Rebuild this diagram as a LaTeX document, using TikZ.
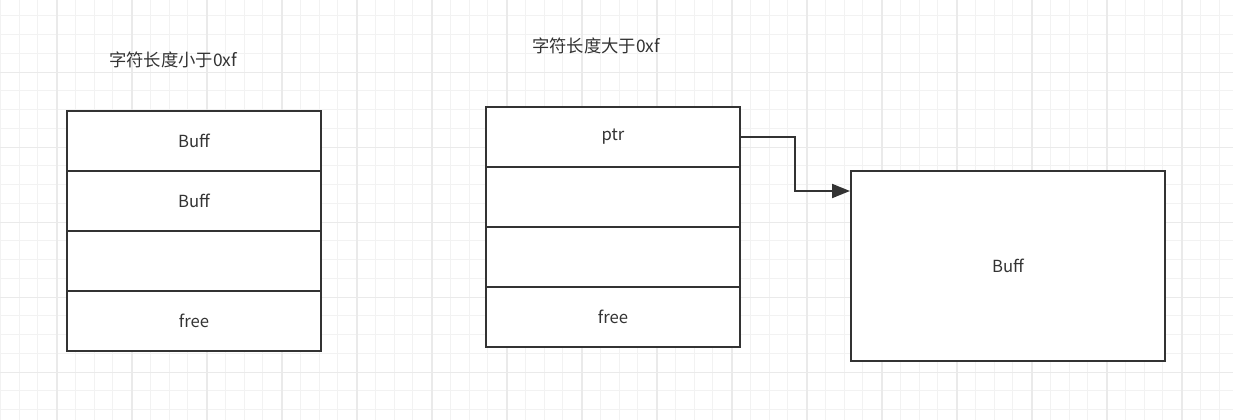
\documentclass[tikz,border=0pt]{standalone}
\usepackage{fontspec}
\setmainfont{Noto Sans CJK SC}
\usetikzlibrary{arrows.meta}
\definecolor{ink}{HTML}{333333}
\definecolor{gridminor}{HTML}{F2F2F2}
\definecolor{gridmajor}{HTML}{EAEAEA}
\tikzset{
  cell/.style={draw=ink, line width=1.5pt, fill=white, minimum width=190.5pt, minimum height=45pt, inner sep=0pt, anchor=north west, text=ink, font=\fontsize{12.5}{14}\selectfont},
  bigbox/.style={draw=ink, line width=1.5pt, fill=white, minimum width=235.5pt, minimum height=142.5pt, inner sep=0pt, anchor=north west, text=ink, font=\fontsize{12.5}{14}\selectfont},
  title/.style={text=ink, font=\fontsize{13}{15}\selectfont, inner sep=0pt},
  link/.style={draw=ink, line width=1.5pt, -{Triangle[length=13.5pt,width=10.5pt]}}
}
\begin{document}
\begin{tikzpicture}[x=0.75pt,y=-0.75pt]
\useasboundingbox (0,0) rectangle (1233,420);
\fill[white] (0,0) rectangle (1233,420);
% grid
\foreach \i in {0,...,66}{
  \draw[gridminor, line width=0.75pt] ({0.25+18.75*\i},0) -- ({0.25+18.75*\i},420);
}
\foreach \i in {0,...,22}{
  \draw[gridminor, line width=0.75pt] (0,{-2.75+18.75*\i}) -- (1233,{-2.75+18.75*\i});
}
\foreach \i in {0,...,16}{
  \draw[gridmajor, line width=0.9pt] ({-18+75*\i},0) -- ({-18+75*\i},420);
}
\foreach \i in {0,...,5}{
  \draw[gridmajor, line width=0.9pt] (0,{-2.75+75*\i}) -- (1233,{-2.75+75*\i});
}
% titles
\node[title] (t1) at (173,60) {字符长度小于0xf};
\node[title] (t2) at (596,46) {字符长度大于0xf};
% left stack
\node[cell] (a1) at (66,110) {Buff};
\node[cell] (a2) at (66,170) {Buff};
\node[cell] (a3) at (66,230) {};
\node[cell] (a4) at (66,290) {free};
% middle stack
\node[cell] (b1) at (485,106) {ptr};
\node[cell] (b2) at (485,166) {};
\node[cell] (b3) at (485,226) {};
\node[cell] (b4) at (485,286) {free};
% right box
\node[bigbox] (c) at (850,170) {Buff};
% arrow
\draw[link] (b1.east) -| (795,191) -- (c.west |- 0,191);
\end{tikzpicture}
\end{document}
